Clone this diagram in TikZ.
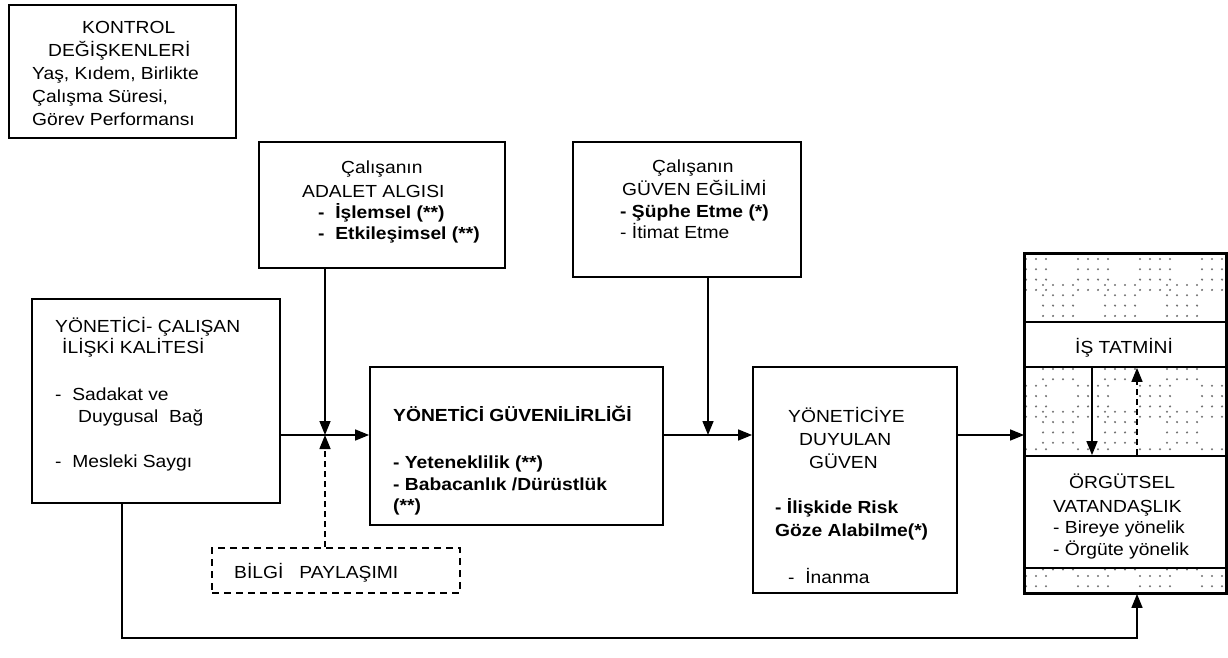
\documentclass[tikz,border=0pt]{standalone}
\usepackage{fontspec}
\setmainfont[FakeStretch=1.1]{Liberation Sans}
\usetikzlibrary{arrows.meta}
\begin{document}
\begin{tikzpicture}[x=1pt,y=-1pt,
  box/.style={draw,line width=1.8pt,inner sep=0pt},
  dbox/.style={draw,line width=1.6pt,dash pattern=on 7pt off 5pt,inner sep=0pt},
  txt/.style={anchor=base west,inner sep=0pt,font=\fontsize{17.5}{21}\selectfont},
  btxt/.style={txt,font=\fontsize{17.5}{21}\selectfont\bfseries},
  conn/.style={line width=1.5pt,-{Triangle[length=14pt,width=11pt]}},
  dconn/.style={conn,dash pattern=on 6pt off 4pt},
  dotc/.style={fill=black!55}]
\useasboundingbox (0,0) rectangle (1228,658);

% main boxes
\node[box,minimum width=227pt,minimum height=133pt] (kontrol) at (122.5,71.5) {};
\node[box,minimum width=246pt,minimum height=126pt] (adalet) at (382,205) {};
\node[box,minimum width=228pt,minimum height=135pt] (egilim) at (687,209.5) {};
\node[box,minimum width=248pt,minimum height=204pt] (ycq) at (156,401) {};
\node[box,minimum width=293pt,minimum height=158pt] (yg) at (516.5,446) {};
\node[box,minimum width=204pt,minimum height=226pt] (ydg) at (855,480) {};
\node[dbox,minimum width=248pt,minimum height=45pt] (bilgi) at (336,570.5) {};

% right column with dotted texture
\node[box,minimum width=201pt,minimum height=339pt] (rbox) at (1125.5,423.5) {};
\begin{scope}
  \clip (1026,255) rectangle (1225,592);
  \foreach \tx in {0,...,4}{
    \foreach \ty in {0,...,5}{
      \foreach \i in {0,...,3}{
        \foreach \j in {0,...,3}{
          \fill[dotc] (1016+62*\tx+10*\i,259+63.4*\ty+10.3*\j) circle[radius=1.15pt];
          \fill[dotc] (981+62*\tx+10*\i,285+63.4*\ty+10.3*\j) circle[radius=1.15pt];
        }
      }
    }
  }
\end{scope}
\node[box,fill=white,minimum width=201pt,minimum height=45pt] (is) at (1125.5,344.5) {};
\node[box,fill=white,minimum width=201pt,minimum height=112pt] (org) at (1125.5,512) {};
\draw[line width=1.8pt] (rbox.north west) rectangle (rbox.south east);

% texts
\node[txt] (k1) at (82,34) {KONTROL};
\node[txt] (k2) at (48,57) {DEĞİŞKENLERİ};
\node[txt] (k3) at (32,80) {Yaş, Kıdem, Birlikte};
\node[txt] (k4) at (32,103) {Çalışma Süresi,};
\node[txt] (k5) at (32,126) {Görev Performansı};

\node[txt] (a1) at (341,173) {Çalışanın};
\node[txt] (a2) at (302,197) {ADALET ALGISI};
\node[btxt] (a3) at (318,218) {-\ \ İşlemsel (**)};
\node[btxt] (a4) at (318,239) {-\ \ Etkileşimsel (**)};

\node[txt] (e1) at (652,172) {Çalışanın};
\node[txt] (e2) at (622,195) {GÜVEN EĞİLİMİ};
\node[btxt] (e3) at (620,217) {- Şüphe Etme (*)};
\node[txt] (e4) at (620,238) {- İtimat Etme};

\node[txt] (q1) at (55,332) {YÖNETİCİ- ÇALIŞAN};
\node[txt] (q2) at (62,353) {İLİŞKİ KALİTESİ};
\node[txt] (q3) at (55,400) {-\ \ Sadakat ve};
\node[txt] (q4) at (78,422) {Duygusal\ \ Bağ};
\node[txt] (q5) at (55,467) {-\ \ Mesleki Saygı};

\node[btxt] (g1) at (393,421) {YÖNETİCİ GÜVENİLİRLİĞİ};
\node[btxt] (g2) at (393,468) {- Yeteneklilik (**)};
\node[btxt] (g3) at (393,490) {- Babacanlık /Dürüstlük};
\node[btxt] (g4) at (393,511) {(**)};

\node[txt] (d1) at (788,422) {YÖNETİCİYE};
\node[txt] (d2) at (799,445) {DUYULAN};
\node[txt] (d3) at (809,468) {GÜVEN};
\node[btxt] (d4) at (775,513) {- İlişkide Risk};
\node[btxt] (d5) at (775,536) {Göze Alabilme(*)};
\node[txt] (d6) at (788,583) {-\ \ İnanma};

\node[txt] (b1) at (234,578) {BİLGİ\ \ \ PAYLAŞIMI};

\node[txt] (t1) at (1075,353) {İŞ TATMİNİ};
\node[txt] (o1) at (1069,488) {ÖRGÜTSEL};
\node[txt] (o2) at (1053,512) {VATANDAŞLIK};
\node[txt] (o3) at (1053,533) {- Bireye yönelik};
\node[txt] (o4) at (1053,555) {- Örgüte yönelik};

% connectors
\coordinate (j1) at (325,435);
\coordinate (j2) at (708,435);
\coordinate (c1) at (1092,0);
\coordinate (c2) at (1137,0);
\coordinate (c3) at (0,638);
\coordinate (c4) at (122,0);

\draw[conn] (ycq.east |- j1) -- (yg.west |- j1);
\draw[conn] (adalet.south -| j1) -- (j1);
\draw[dconn] (bilgi.north -| j1) -- (j1);
\draw[conn] (yg.east |- j2) -- (ydg.west |- j2);
\draw[conn] (egilim.south -| j2) -- (j2);
\draw[conn] (ydg.east |- j2) -- (rbox.west |- j2);
\draw[conn] (is.south -| c1) -- (org.north -| c1);
\draw[dconn] (org.north -| c2) -- (is.south -| c2);
\draw[conn] (ycq.south -| c4) -- (c4 |- c3) -- (c2 |- c3) -- (rbox.south -| c2);
\end{tikzpicture}
\end{document}
